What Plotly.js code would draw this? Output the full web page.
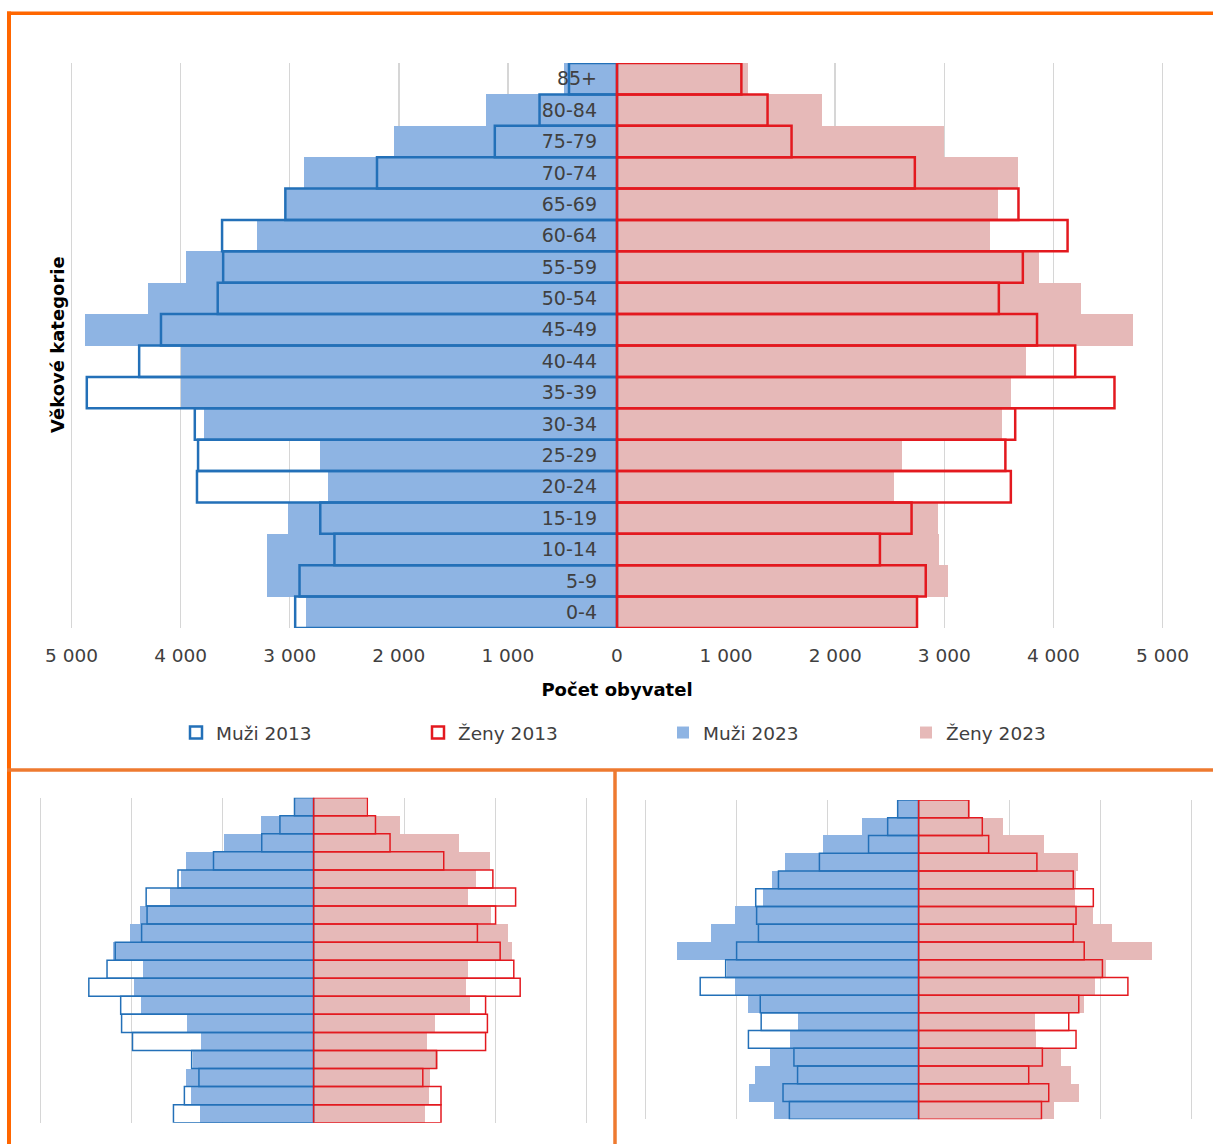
<!DOCTYPE html>
<html>
<head>
<meta charset="utf-8">
<script src="https://cdn.plot.ly/plotly-3.0.1.min.js"></script>
<style>html,body{margin:0;padding:0;background:#fff;}#chart{width:1213px;height:1144px;}</style>
</head>
<body>
<div id="chart"></div>
<script>
// Age categories (bottom to top)
const categories = ['0-4','5-9','10-14','15-19','20-24','25-29','30-34','35-39','40-44','45-49','50-54','55-59','60-64','65-69','70-74','75-79','80-84','85+'];

// Main pyramid (number of inhabitants)
const muzi2013 = [2950,2910,2590,2720,3850,3840,3870,4860,4380,4180,3660,3610,3620,3040,2200,1120,710,440];
const zeny2013 = [2750,2830,2410,2700,3610,3560,3650,4560,4200,3850,3500,3720,4130,3680,2730,1600,1380,1140];
const muzi2023 = [2850,3210,3210,3020,2650,2720,3790,4000,4000,4880,4300,3950,3300,3030,2870,2040,1200,490];
const zeny2023 = [2740,3030,2950,2940,2540,2610,3530,3610,3750,4730,4250,3870,3420,3490,3680,3000,1880,1200];

// Small pyramid A (bottom left), relative units
const aMuzi2013 = [1.54,1.42,1.26,1.34,1.99,2.11,2.12,2.47,2.27,2.18,1.89,1.83,1.84,1.49,1.10,0.57,0.37,0.21];
const aZeny2013 = [1.40,1.40,1.20,1.35,1.89,1.91,1.89,2.27,2.20,2.05,1.80,2.00,2.22,1.97,1.43,0.84,0.68,0.59];
const aMuzi2023 = [1.25,1.35,1.40,1.33,1.24,1.39,1.90,1.97,1.87,2.20,2.02,1.91,1.58,1.46,1.40,0.98,0.58,0.20];
const aZeny2023 = [1.22,1.27,1.28,1.37,1.25,1.33,1.72,1.68,1.70,2.18,2.14,1.95,1.70,1.79,1.94,1.60,0.95,0.58];

// Small pyramid B (bottom right), relative units
const bMuzi2013 = [1.42,1.49,1.33,1.37,1.87,1.73,1.74,2.40,2.12,2.00,1.76,1.78,1.79,1.54,1.09,0.55,0.34,0.23];
const bZeny2013 = [1.35,1.43,1.21,1.36,1.73,1.65,1.76,2.30,2.02,1.82,1.70,1.73,1.92,1.70,1.30,0.77,0.70,0.55];
const bMuzi2023 = [1.59,1.86,1.80,1.63,1.41,1.33,1.87,2.02,2.11,2.66,2.28,2.02,1.71,1.61,1.47,1.05,0.62,0.23];
const bZeny2023 = [1.49,1.76,1.67,1.56,1.29,1.28,1.82,1.94,2.06,2.56,2.12,1.92,1.72,1.73,1.75,1.38,0.93,0.56];

// Axis ticks
const mainTickVals = [-5000,-4000,-3000,-2000,-1000,0,1000,2000,3000,4000,5000];
const mainTickText = ['5 000','4 000','3 000','2 000','1 000','0','1 000','2 000','3 000','4 000','5 000'];
const smallTickVals = [-3,-2,-1,0,1,2,3];

const seriesNames = {m13:'Muži 2013', z13:'Ženy 2013', m23:'Muži 2023', z23:'Ženy 2023'};

const C_M_FILL = '#8EB4E3', C_Z_FILL = '#E6B9B8', C_M_LINE = '#2370B8', C_Z_LINE = '#E3191F';
const neg = a => a.map(v => -v);

function pyramid(xa, ya, m13, z13, m23, z23, lw, withLegend) {
  return [
    {type:'bar', orientation:'h', y:categories, x:neg(m23), name:seriesNames.m23, xaxis:xa, yaxis:ya,
     marker:{color:C_M_FILL, line:{width:0}}, showlegend:withLegend, legend:'legend3', hoverinfo:'skip'},
    {type:'bar', orientation:'h', y:categories, x:z23, name:seriesNames.z23, xaxis:xa, yaxis:ya,
     marker:{color:C_Z_FILL, line:{width:0}}, showlegend:withLegend, legend:'legend4', hoverinfo:'skip'},
    {type:'bar', orientation:'h', y:categories, x:neg(m13), name:seriesNames.m13, xaxis:xa, yaxis:ya,
     marker:{color:'rgba(255,255,255,0)', line:{color:C_M_LINE, width:lw}}, showlegend:withLegend, legend:'legend', hoverinfo:'skip'},
    {type:'bar', orientation:'h', y:categories, x:z13, name:seriesNames.z13, xaxis:xa, yaxis:ya,
     marker:{color:'rgba(255,255,255,0)', line:{color:C_Z_LINE, width:lw}}, showlegend:withLegend, legend:'legend2', hoverinfo:'skip'}
  ];
}

const data = [].concat(
  pyramid('x','y', muzi2013, zeny2013, muzi2023, zeny2023, 2.5, true),
  pyramid('x2','y2', aMuzi2013, aZeny2013, aMuzi2023, aZeny2023, 1.5, false),
  pyramid('x3','y3', bMuzi2013, bZeny2013, bMuzi2023, bZeny2023, 1.5, false)
);

const W = 1213, H = 1144;
const px = v => v / W;
const py = v => (H - v) / H;
const FONT = 'DejaVu Sans, Verdana, sans-serif';
const GRID = '#D6D6D6';
const ORANGE = '#FF6600', ORANGE2 = '#EE7A30';

function legendAt(xText) {
  return {orientation:'h', x:px(xText - 40), xanchor:'left', y:py(733), yanchor:'middle',
          font:{family:FONT, size:18.5, color:'#404040'}, bgcolor:'rgba(0,0,0,0)', borderwidth:0, itemclick:false};
}

const layout = {
  width:W, height:H,
  margin:{l:0, r:0, t:0, b:0},
  paper_bgcolor:'#ffffff', plot_bgcolor:'rgba(0,0,0,0)',
  barmode:'overlay', bargap:0,
  font:{family:FONT, color:'#404040'},
  xaxis:{domain:[px(617-567.3), px(617+567.3)], range:[-5200,5200], anchor:'y',
         tickvals:mainTickVals, ticktext:mainTickText, showgrid:true, gridcolor:GRID, gridwidth:1.5,
         zeroline:false, showline:false, ticks:'', ticklabelstandoff:14,
         tickfont:{family:FONT, size:18.5, color:'#404040'},
         title:{text:'Počet obyvatel', font:{family:FONT, size:18, color:'#000000', weight:'bold'}, standoff:18}},
  yaxis:{domain:[py(628), py(63)], range:[-0.5,17.5], type:'category', categoryorder:'array', categoryarray:categories,
         anchor:'free', position:px(617), side:'left', showgrid:false, zeroline:false, showline:false, ticks:'',
         ticklabelstandoff:20, tickfont:{family:FONT, size:19, color:'#404040'}},
  xaxis2:{domain:[px(313.6-282.1), px(313.6+282.1)], range:[-3.1,3.1], anchor:'y2', tickvals:smallTickVals,
          showticklabels:false, showgrid:true, gridcolor:GRID, gridwidth:1, zeroline:false, showline:false, ticks:''},
  yaxis2:{domain:[py(1122.7), py(797.7)], range:[-0.5,17.5], type:'category', categoryarray:categories, anchor:'x2',
          showticklabels:false, showgrid:false, zeroline:false, showline:false, ticks:''},
  xaxis3:{domain:[px(918.6-282.1), px(918.6+282.1)], range:[-3.1,3.1], anchor:'y3', tickvals:smallTickVals,
          showticklabels:false, showgrid:true, gridcolor:GRID, gridwidth:1, zeroline:false, showline:false, ticks:''},
  yaxis3:{domain:[py(1119.3), py(800)], range:[-0.5,17.5], type:'category', categoryarray:categories, anchor:'x3',
          showticklabels:false, showgrid:false, zeroline:false, showline:false, ticks:''},
  legend:legendAt(216),
  legend2:legendAt(458),
  legend3:legendAt(703),
  legend4:legendAt(946),
  showlegend:true,
  annotations:[
    {text:'<b>Věkové kategorie</b>', xref:'paper', yref:'paper', x:px(57), y:py(345), textangle:-90,
     showarrow:false, xanchor:'center', yanchor:'middle', font:{family:FONT, size:18, color:'#000000'}}
  ],
  shapes:[
    {type:'line', xref:'paper', yref:'paper', x0:px(7), x1:1, y0:py(13.3), y1:py(13.3), line:{color:ORANGE, width:3.5}},
    {type:'line', xref:'paper', yref:'paper', x0:px(9), x1:px(9), y0:0, y1:py(11.6), line:{color:ORANGE, width:4}},
    {type:'line', xref:'paper', yref:'paper', x0:px(7), x1:1, y0:py(770), y1:py(770), line:{color:ORANGE2, width:3.5}},
    {type:'line', xref:'paper', yref:'paper', x0:px(615), x1:px(615), y0:0, y1:py(770), line:{color:ORANGE2, width:3.5}}
  ]
};

Plotly.newPlot('chart', data, layout, {displayModeBar:false, staticPlot:true});
</script>
</body>
</html>
